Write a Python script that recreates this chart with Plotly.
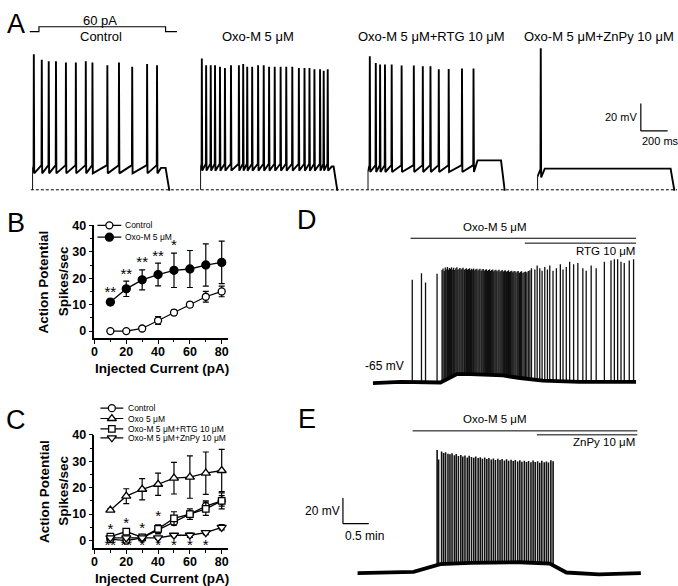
import plotly.graph_objects as go

W, H = 678, 586
FONT = "Liberation Sans, Arial, Helvetica, sans-serif"

# ---------------- Panel A data (time in ms from step onset, Vm in mV) ----------------
rest_mV = -65
a_ctrl_t = [12.6, 71.9, 123.7, 177.8, 251.9, 325.9, 400, 449.6, 560.7, 647.4, 745.9, 857, 931]
a_ctrl_pk = [34, 30, 29, 29, 28, 28, 29, 28, 26, 28, 25, 27, 26]
a_oxo_t = [12.6, 44.7, 79, 111, 148, 185, 230, 289, 321, 351, 388, 432, 474, 514, 556,
           600, 642, 687, 736, 778, 815, 852, 894, 921, 951]
a_oxo_pk = [31, 26, 26, 26, 25, 24, 26, 26, 27, 25, 25, 26, 26, 25, 25, 25, 25, 25, 24, 24,
            24, 23, 23, 22, 23]
a_rtg_t = [17, 61.5, 93.6, 130, 180, 254, 345, 412, 469, 531, 605, 704, 790]
a_rtg_pk = [32.5, 27.6, 26.5, 26.5, 26.5, 25.8, 25.8, 25.3, 25.3, 23, 23.3, 23.6, 23.6]
a_znpy_t = [27]
a_znpy_pk = [38.5]
# (trough after spike, pre-spike level, level after last spike)
a_ctrl_lv = (-53, -47, -49)
a_oxo_lv = (-51, -46, -48)
a_rtg_lv = (-52, -47, -43.5)
a_znpy_lv = (-56, -50, -49.5)
a_titles = ["Control", "Oxo-M 5 μM", "Oxo-M 5 μM+RTG 10 μM", "Oxo-M 5 μM+ZnPy 10 μM"]
stim_t = [-20, 50, 50, 995, 995, 1080]
stim_pA = [0, 0, 60, 60, 0, 0]

# ---------------- Panels B, C data ----------------
current = [10, 20, 30, 40, 50, 60, 70, 80]
b_ctrl = [0, 0, 1, 4, 7, 10, 13, 15]
b_ctrl_err = [0.3, 0.3, 0.5, 1.5, 1.0, 1.0, 2.0, 2.0]
b_oxo = [11, 16, 19.4, 21.4, 23, 23.5, 25, 26]
b_oxo_err = [1, 2.9, 3.8, 4.3, 6.5, 7, 8, 8]
b_star_x = [10, 20, 30, 40, 50]
b_star_y = [14.2, 21.3, 25.8, 28.0, 32.0]
b_star_txt = ["**", "**", "**", "**", "*"]

c_ctrl = [0.5, 0, 1, 4, 7, 10, 13, 15]
c_ctrl_err = [0.3, 0.3, 0.5, 1.5, 1.0, 1.0, 2.0, 2.0]
c_oxo = [11.5, 16.8, 19.4, 21.3, 23.6, 24, 25.5, 26.5]
c_oxo_err = [0.5, 2.8, 4, 4.2, 6, 8, 8, 8]
c_rtg = [1.5, 3.4, 1.2, 4.4, 8.4, 10, 12, 15]
c_rtg_err = [1, 0.8, 0.8, 1.5, 2.5, 2, 2.5, 3]
c_znpy = [1, 1, 1, 1, 2, 2, 3, 5]
c_znpy_err = [0.5, 0.5, 0.5, 0.5, 0.5, 0.8, 0.8, 1]
c_star_top_x = [10, 20, 30, 40]
c_star_top_y = [3.7, 6.2, 4.4, 8.7]
c_star_bot_x = [10, 20, 30, 40, 50, 60, 70]
c_star_bot_txt = ["**", "**", "*", "*", "*", "*", "*"]
c_star_bot_y = -2.3

# ---------------- Panel D data (time in s, Vm in mV) ----------------
d_base_t = [0, 32.3, 78.5, 84, 97.7, 113, 151, 170.8, 197.3, 240, 305.8]
d_base_v = [-65.5, -64.5, -65, -63, -58.5, -58.5, -59.5, -61.5, -63.5, -64.5, -64.5]
d_spk_t = [45.8, 56.5, 61.2, 74.6,
           80.4, 81.5, 82.9, 84.1, 85.2, 86.6, 87.8, 88.9, 90.3, 91.4,
           92.8, 93.9, 95.1, 96.4, 97.6, 98.7, 100.1, 101.2, 102.5, 103.7,
           104.8, 106.2, 107.3, 108.6, 109.8, 111.0, 112.3, 113.5, 114.6, 116.0,
           117.1, 118.4, 119.6, 120.8, 122.1, 123.3, 124.4, 125.8, 126.9, 128.2,
           129.4, 130.6, 131.9, 133.1, 134.2, 135.6, 136.7, 138.0, 139.2, 140.4,
           141.7, 142.9, 144.0, 145.4, 146.5, 147.8, 149.0, 150.2, 151.5, 152.7,
           153.8, 155.2, 156.3, 157.6, 158.8, 160.0, 161.3, 162.5, 163.7, 165.0,
           166.2, 167.6, 168.8, 170.1, 171.5, 172.8, 174.3, 175.7, 177.2, 178.8,
           180.5, 182.3,
           184.2, 188.1, 190.8, 193.8, 196.5, 199.6, 202.7, 205.4, 209.2, 213.1,
           217.7, 220.8, 224.6, 228.5, 233.1, 238.0, 243.8, 247.7, 253.5, 259.3,
           268.8, 276.5, 280.4, 284.2, 288.1, 291.9, 297.7, 302.7]
d_spk_v = [15, 20.1, 12.9, 19.6,
           22.5, 23.8, 21.9, 24.6, 23.1, 24.9, 22.7, 24.2, 23.5, 24.8,
           23.0, 24.4, 22.6, 23.9, 24.7, 22.8, 23.6, 24.1, 22.9, 23.7,
           24.3, 22.5, 23.4, 24.0, 22.7, 23.3, 23.9, 22.4, 23.5, 22.9,
           23.8, 22.3, 23.1, 23.6, 22.2, 23.0, 23.5, 22.1, 22.9, 23.4,
           22.0, 22.8, 23.2, 21.9, 22.6, 23.1, 21.8, 22.5, 22.9, 21.7,
           22.4, 22.8, 21.6, 22.2, 22.7, 21.5, 22.1, 22.5, 21.4, 22.0,
           22.4, 21.2, 21.9, 22.3, 21.0, 21.7, 22.1, 20.8, 21.6, 21.9,
           20.6, 21.4, 21.8, 20.5, 21.2, 21.6, 20.3, 21.0, 21.5, 20.9,
           21.8, 22.4,
           24, 23, 26, 24, 22, 25, 23, 26, 22, 24,
           27, 23, 25, 29, 27, 28, 24, 22, 26, 24,
           29, 30, 31, 31, 29, 28, 30, 31]
d_drug_names = ["Oxo-M 5 μM", "RTG 10 μM"]
d_drug_on = [43.8, 176.5]
d_drug_off = [305.8, 305.8]

# ---------------- Panel E data (time in s, Vm in mV) ----------------
e_base_t = [0, 50, 65, 96, 130.7, 188.4, 223, 242.3, 280, 328.8]
e_base_v = [-65, -64.5, -64, -58, -57, -56.5, -57.5, -64.5, -66, -65]
e_spk_t = [92.3, 94.0, 97.5, 99.8, 102.1, 104.9, 107.2, 109.6, 112.3, 114.5,
           117.0, 119.8, 122.1, 124.6, 127.3, 129.5, 132.2, 134.8, 137.1, 139.9,
           142.4, 144.8, 147.5, 150.0, 152.4, 155.1, 157.6, 160.0, 162.8, 165.3,
           167.7, 170.4, 172.9, 175.3, 178.1, 180.6, 183.0, 185.8, 188.3, 190.7,
           193.5, 196.0, 198.4, 201.2, 203.7, 206.1, 208.9, 211.4, 213.8, 216.6,
           219.1, 221.5, 224.3, 226.9]
e_spk_v = [30.9, 23.5, 29.8, 28.6, 29.2, 28.0, 27.5, 28.3, 26.9, 27.7,
           26.2, 27.0, 25.8, 26.6, 25.1, 26.4, 25.5, 24.8, 25.9, 24.6,
           25.2, 24.1, 25.0, 23.8, 24.7, 23.5, 24.3, 23.2, 24.0, 23.1,
           23.8, 22.7, 23.6, 22.5, 23.4, 22.3, 23.1, 22.0, 22.9, 21.8,
           22.6, 21.5, 22.4, 21.3, 22.8, 21.6, 22.2, 21.0, 22.5, 21.4,
           22.0, 21.2, 23.0, 22.1]
e_drug_names = ["Oxo-M 5 μM", "ZnPy 10 μM"]
e_drug_on = [63.8, 208.0]
e_drug_off = [324.6, 324.6]


def px(x):
    return x / W


def py(y):
    return 1 - y / H


fig = go.Figure()

# ---------------- Panel A traces ----------------
def a_vertices(times, peaks, lv):
    trough, thresh, tail = lv
    xs = [0, 0]
    ys = [rest_mV, trough]
    for t, p in zip(times, peaks):
        xs += [t - 2, t, t + 3]
        ys += [thresh, p, trough]
    xs += [times[-1] + 30, 995, 1022, 1030]
    ys += [tail, tail, rest_mV, rest_mV]
    return xs, ys


a_sets = [(a_ctrl_t, a_ctrl_pk, a_ctrl_lv), (a_oxo_t, a_oxo_pk, a_oxo_lv),
          (a_rtg_t, a_rtg_pk, a_rtg_lv), (a_znpy_t, a_znpy_pk, a_znpy_lv)]
for i, (tt, pk, lv) in enumerate(a_sets):
    xs, ys = a_vertices(tt, pk, lv)
    fig.add_trace(go.Scatter(x=xs, y=ys, mode="lines", line=dict(color="black", width=1.9),
                             xaxis="x" if i == 0 else f"x{i+1}", yaxis="y", hoverinfo="skip"))

fig.add_trace(go.Scatter(x=stim_t, y=stim_pA, mode="lines", line=dict(color="black", width=1.2),
                         xaxis="x5", yaxis="y5"))

# ---------------- Panel B ----------------
mk_open = dict(symbol="circle", size=7, color="white", line=dict(color="black", width=1.3))
mk_fill = dict(symbol="circle", size=8, color="black", line=dict(color="black", width=1.3))
errstyle = dict(type="data", color="black", thickness=1.2, width=3)
fig.add_trace(go.Scatter(x=current, y=b_oxo, mode="lines+markers", marker=mk_fill,
                         line=dict(color="black", width=1.3),
                         error_y=dict(array=b_oxo_err, **errstyle), xaxis="x6", yaxis="y6", cliponaxis=False))
fig.add_trace(go.Scatter(x=current, y=b_ctrl, mode="lines+markers", marker=mk_open,
                         line=dict(color="black", width=1.3),
                         error_y=dict(array=b_ctrl_err, **errstyle), xaxis="x6", yaxis="y6", cliponaxis=False))
fig.add_trace(go.Scatter(x=b_star_x, y=b_star_y, mode="text", text=b_star_txt,
                         textfont=dict(size=15, family=FONT, color="black"),
                         xaxis="x6", yaxis="y6", cliponaxis=False))

# ---------------- Panel C ----------------
c_series = [
    (c_oxo, c_oxo_err, "triangle-up", 8),
    (c_ctrl, c_ctrl_err, "circle", 7),
    (c_rtg, c_rtg_err, "square", 6.5),
    (c_znpy, c_znpy_err, "triangle-down", 8),
]
for vals, err, sym, sz in c_series:
    fig.add_trace(go.Scatter(x=current, y=vals, mode="lines+markers",
                             marker=dict(symbol=sym, size=sz, color="white", line=dict(color="black", width=1.3)),
                             line=dict(color="black", width=1.3),
                             error_y=dict(array=err, **errstyle), xaxis="x7", yaxis="y7", cliponaxis=False))
fig.add_trace(go.Scatter(x=c_star_top_x, y=c_star_top_y, mode="text", text=["*"] * len(c_star_top_x),
                         textfont=dict(size=15, family=FONT, color="black"),
                         xaxis="x7", yaxis="y7", cliponaxis=False))
fig.add_trace(go.Scatter(x=c_star_bot_x, y=[c_star_bot_y] * len(c_star_bot_x), mode="text",
                         text=c_star_bot_txt, textfont=dict(size=15, family=FONT, color="black"),
                         xaxis="x7", yaxis="y7", cliponaxis=False))

# ---------------- Panels D and E ----------------
def spikes(tt, vv, base):
    xs, ys = [], []
    for t, v in zip(tt, vv):
        xs += [t, t, None]
        ys += [base, v, None]
    return xs, ys


for (bt, bv, st, sv, xa, ya, sw) in [(d_base_t, d_base_v, d_spk_t, d_spk_v, "x8", "y8", 1.3),
                                     (e_base_t, e_base_v, e_spk_t, e_spk_v, "x9", "y9", 1.6)]:
    sx, sy = spikes(st, sv, -70)
    fig.add_trace(go.Scatter(x=sx, y=sy, mode="lines", line=dict(color="#111111", width=sw),
                             xaxis=xa, yaxis=ya))
    # white mask below the baseline so spikes start on the baseline
    fig.add_trace(go.Scatter(x=bt + [bt[-1], bt[0]], y=bv + [-90, -90], mode="lines", fill="toself",
                             fillcolor="white", line=dict(width=0, color="white"), xaxis=xa, yaxis=ya))
    fig.add_trace(go.Scatter(x=bt, y=bv, mode="lines", line=dict(color="black", width=3.8),
                             xaxis=xa, yaxis=ya))

# ---------------- Custom legends ----------------
leg_b = [("Control", mk_open, 221), ("Oxo-M 5 μM", mk_fill, 233)]
leg_c = [("Control", "circle", 7, 406), ("Oxo 5 μM", "triangle-up", 8, 416.5),
         ("Oxo-M 5 μM+RTG 10 μM", "square", 6.5, 427), ("Oxo-M 5 μM+ZnPy 10 μM", "triangle-down", 8, 436)]
annotations = []
for name, mk, yy in leg_b:
    fig.add_trace(go.Scatter(x=[95, 119], y=[yy, yy], mode="lines", line=dict(color="black", width=1.2),
                             xaxis="x10", yaxis="y10"))
    fig.add_trace(go.Scatter(x=[107], y=[yy], mode="markers", marker=mk, xaxis="x10", yaxis="y10",
                             cliponaxis=False))
    annotations.append(dict(text=name, x=px(121), y=py(yy), xref="paper", yref="paper", showarrow=False,
                            xanchor="left", yanchor="middle", font=dict(size=8.5, family=FONT, color="black")))
for name, sym, sz, yy in leg_c:
    fig.add_trace(go.Scatter(x=[98, 121], y=[yy, yy], mode="lines", line=dict(color="black", width=1.2),
                             xaxis="x11", yaxis="y11"))
    fig.add_trace(go.Scatter(x=[109.5], y=[yy], mode="markers",
                             marker=dict(symbol=sym, size=sz, color="white", line=dict(color="black", width=1.3)),
                             xaxis="x11", yaxis="y11", cliponaxis=False))
    annotations.append(dict(text=name, x=px(124), y=py(yy), xref="paper", yref="paper", showarrow=False,
                            xanchor="left", yanchor="middle", font=dict(size=8.5, family=FONT, color="black")))


def ann(text, x, y, size, xanchor="center", angle=0, bold=False):
    f = dict(size=size, family=FONT, color="black")
    if bold:
        f["weight"] = "bold"
    annotations.append(dict(text=text, x=px(x), y=py(y), xref="paper", yref="paper", showarrow=False,
                            xanchor=xanchor, yanchor="middle", font=f, textangle=angle, borderpad=0))


# panel letters
for letter, lx, ly in [("A", 13, 17), ("B", 13, 219), ("C", 13, 418), ("D", 306, 216), ("E", 306, 417)]:
    ann(letter, lx, ly, 27)
# panel A titles
ann("60 pA", 98, 13.3, 13)
for title, cx in zip(a_titles, [98.5, 256.5, 430.8, 600]):
    ann(title, cx, 30, 13)
ann("20 mV", 638.5, 111.7, 11, xanchor="right")
ann("200 ms", 641.5, 136, 11, xanchor="left")
# axis titles B, C
for cy, xy in [(278, 366), (490, 578)]:
    ann("Action Potential", 41, cy, 13.5, angle=-90, bold=True)
    ann("Spikes/sec", 61, cy, 13.5, angle=-90, bold=True)
    ann("Injected Current (pA)", 160, xy, 13.5, bold=True)
# D, E texts
ann(d_drug_names[0], 495, 223, 11.5)
ann(d_drug_names[1], 636.5, 247, 11.5, xanchor="right")
ann("-65 mV", 384, 363, 12)
ann(e_drug_names[0], 495, 416.7, 11.5)
ann(e_drug_names[1], 636.7, 440.7, 11.5, xanchor="right")
ann("20 mV", 340, 510, 12, xanchor="right")
ann("0.5 min", 343, 535, 12, xanchor="left")

shapes = []
ln = dict(color="black", width=1.2)
# A scale bar (20 mV, 200 ms) in trace-4 coordinates
shapes.append(dict(type="line", xref="x4", yref="y", x0=773, x1=773, y0=-22, y1=-2, line=ln))
shapes.append(dict(type="line", xref="x4", yref="y", x0=773, x1=973, y0=-22, y1=-22, line=ln))
# dashed resting line
shapes.append(dict(type="line", xref="paper", yref="paper", x0=px(28), x1=1, y0=py(185), y1=py(185),
                   line=dict(color="black", width=1, dash="3px,2px")))
# drug bars
for on, off, yy in zip(d_drug_on, d_drug_off, [47.3, 43.5]):
    shapes.append(dict(type="line", xref="x8", yref="y8", x0=on, x1=off, y0=yy, y1=yy,
                       line=dict(color="black", width=1)))
for on, off, yy in zip(e_drug_on, e_drug_off, [45.8, 42.7]):
    shapes.append(dict(type="line", xref="x9", yref="y9", x0=on, x1=off, y0=yy, y1=yy,
                       line=dict(color="black", width=1)))
# E scale bar (20 mV, 0.5 min)
shapes.append(dict(type="line", xref="x9", yref="y9", x0=-17, x1=-17, y0=-26.5, y1=-6.5, line=ln))
shapes.append(dict(type="line", xref="x9", yref="y9", x0=-17, x1=13, y0=-26.5, y1=-26.5, line=ln))

hidden = dict(visible=False, fixedrange=True)
layout = dict(
    width=W, height=H, margin=dict(l=0, r=0, t=0, b=0), showlegend=False,
    paper_bgcolor="white", plot_bgcolor="rgba(0,0,0,0)",
    annotations=annotations, shapes=shapes,
    yaxis=dict(domain=[py(194.7), py(36.8)], range=[-72, 42], anchor="x", **hidden),
)
onsets = [29.3, 198.3, 366.7, 537.3]
for i, o in enumerate(onsets):
    key = "xaxis" if i == 0 else f"xaxis{i+1}"
    layout[key] = dict(domain=[px(o), min(1, px(o + 139))], range=[0, 1030], anchor="y", **hidden)
layout["xaxis5"] = dict(domain=[px(26.7), px(175)], range=[-20, 1080], anchor="y5", **hidden)
layout["yaxis5"] = dict(domain=[py(27), py(18)], range=[-24, 84], anchor="x5", **hidden)

axstyle = dict(showline=True, linecolor="black", linewidth=1.5, ticks="outside", ticklen=4,
               tickwidth=1.3, tickcolor="black", showgrid=False, zeroline=False, fixedrange=True,
               tickfont=dict(size=12.5, family=FONT, color="black", weight="bold"))
for xa, ya, ydom, yrng in [("xaxis6", "yaxis6", [py(335), py(221)], [-2.6, 40]),
                           ("xaxis7", "yaxis7", [py(548), py(433)], [-3, 40])]:
    n = xa[-1]
    layout[xa] = dict(domain=[px(92), px(226.4)], range=[0, 84], anchor="y" + n,
                      tickvals=[0, 20, 40, 60, 80], ticklabelstandoff=-3,
                      minor=dict(tickvals=[10, 30, 50, 70], ticklen=2.5, tickwidth=1, tickcolor="black", ticks="outside"),
                      **axstyle)
    layout[ya] = dict(domain=ydom, range=yrng, anchor="x" + n, tickvals=[0, 10, 20, 30, 40],
                      minor=dict(tickvals=[5, 15, 25, 35], ticklen=2.5, tickwidth=1, tickcolor="black", ticks="outside"),
                      **axstyle)

layout["xaxis8"] = dict(domain=[px(372), px(637)], range=[0, 305.8], anchor="y8", **hidden)
layout["yaxis8"] = dict(domain=[py(392), py(200)], range=[-74.2, 73.5], anchor="x8", **hidden)
layout["xaxis9"] = dict(domain=[px(330), px(641.7)], range=[-30.8, 328.8], anchor="y9", **hidden)
layout["yaxis9"] = dict(domain=[py(586), py(400)], range=[-75, 68.1], anchor="x9", **hidden)
layout["xaxis10"] = dict(domain=[px(90), px(130)], range=[90, 130], anchor="y10", **hidden)
layout["yaxis10"] = dict(domain=[py(240), py(215)], range=[240, 215], anchor="x10", **hidden)
layout["xaxis11"] = dict(domain=[px(95), px(130)], range=[95, 130], anchor="y11", **hidden)
layout["yaxis11"] = dict(domain=[py(440), py(400)], range=[440, 400], anchor="x11", **hidden)

fig.update_layout(**layout)
fig.write_html("out.html", config={"displayModeBar": False},
               post_script="document.body.style.margin='0px';document.body.style.overflow='hidden';")
